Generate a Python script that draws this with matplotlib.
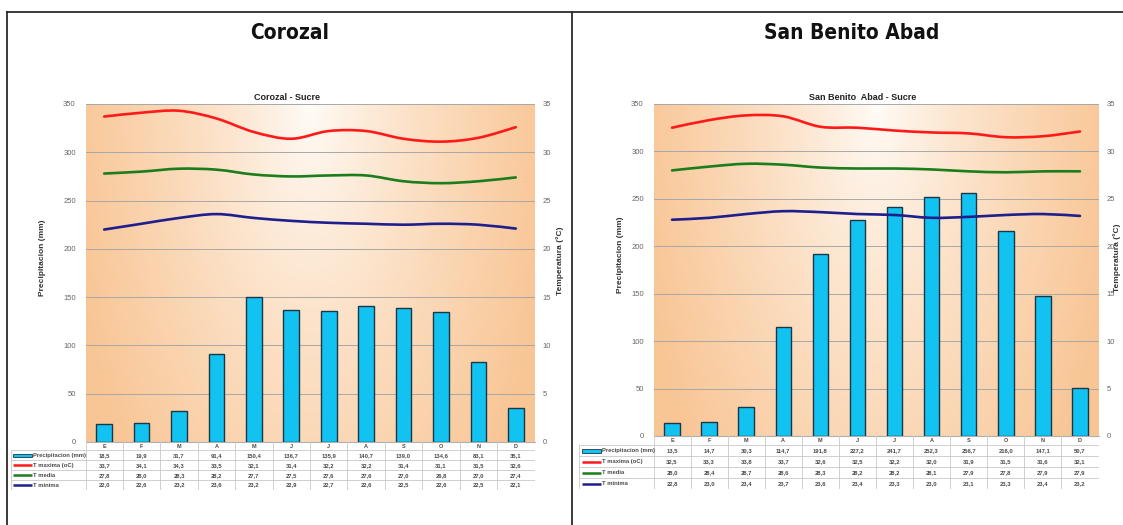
import numpy as np
import matplotlib
matplotlib.use("Agg")
import matplotlib.pyplot as plt
from matplotlib.path import Path
from matplotlib.patches import PathPatch, Rectangle
from matplotlib.lines import Line2D

W, H = 1123, 525

months = ["E", "F", "M", "A", "M", "J", "J", "A", "S", "O", "N", "D"]

# Corozal - Sucre
cor_prec = [18.5, 19.9, 31.7, 91.4, 150.4, 136.7, 135.9, 140.7, 139.0, 134.6, 83.1, 35.1]
cor_tmax = [33.7, 34.1, 34.3, 33.5, 32.1, 31.4, 32.2, 32.2, 31.4, 31.1, 31.5, 32.6]
cor_tmed = [27.8, 28.0, 28.3, 28.2, 27.7, 27.5, 27.6, 27.6, 27.0, 26.8, 27.0, 27.4]
cor_tmin = [22.0, 22.6, 23.2, 23.6, 23.2, 22.9, 22.7, 22.6, 22.5, 22.6, 22.5, 22.1]

# San Benito Abad - Sucre
sba_prec = [13.5, 14.7, 30.3, 114.7, 191.8, 227.2, 241.7, 252.3, 256.7, 216.0, 147.1, 50.7]
sba_tmax = [32.5, 33.3, 33.8, 33.7, 32.6, 32.5, 32.2, 32.0, 31.9, 31.5, 31.6, 32.1]
sba_tmed = [28.0, 28.4, 28.7, 28.6, 28.3, 28.2, 28.2, 28.1, 27.9, 27.8, 27.9, 27.9]
sba_tmin = [22.8, 23.0, 23.4, 23.7, 23.6, 23.4, 23.3, 23.0, 23.1, 23.3, 23.4, 23.2]

row_labels = ["Precipitacion (mm)", "T maxima (oC)", "T media", "T minima"]

C_BAR = "#12c3f2"
C_MAX = "#ff1a1a"
C_MED = "#1b7d1b"
C_MIN = "#1e1e8c"
TXT = "#4a4a4a"
SANS = "Liberation Sans"


def frac(x0, y0, x1, y1):
    return [x0 / W, 1 - y1 / H, (x1 - x0) / W, (y1 - y0) / H]


def smooth(x, y, k=1 / 6):
    # Catmull-Rom style cubic segments through the monthly points
    p = np.column_stack([x, y]).astype(float)
    ext = np.vstack([p[0], p, p[-1]])
    verts = [p[0]]
    codes = [Path.MOVETO]
    for i in range(len(p) - 1):
        a, b, c, d = ext[i], ext[i + 1], ext[i + 2], ext[i + 3]
        verts += [b + (c - a) * k, c - (d - b) * k, c]
        codes += [Path.CURVE4] * 3
    return Path(verts, codes)


def fmt(v):
    return f"{v:.1f}".replace(".", ",")


def gradient():
    X, Y = np.meshgrid(np.linspace(0, 1, 300), np.linspace(1, 0, 200))
    t = np.sqrt(((X - 0.5) / 0.5) ** 2 * 0.85 + (1 - Y) ** 2 * 0.35)
    t = np.clip(t, 0, 1) ** 0.8
    edge = np.array([0.975, 0.775, 0.585])
    white = np.array([1.0, 0.99, 0.975])
    return white * (1 - t[..., None]) + edge * t[..., None]


def climate_chart(px0, px1, py0, py1, tbot, title, title_x, ylab_x, tlab_x,
                  prec, tmax, tmed, tmin):
    x = np.arange(12)
    ax = fig.add_axes(frac(px0, py0, px1, py1))
    ax.imshow(gradient(), extent=[0, 1, 0, 1], transform=ax.transAxes,
              aspect="auto", zorder=0)
    ax.set_xlim(-0.5, 11.5)
    ax.set_ylim(0, 350)
    ax.set_yticks(np.arange(0, 351, 50))
    for v in range(50, 351, 50):
        ax.axhline(v, color="#a8a8a8", lw=0.7, zorder=1)
    ax.bar(x, prec, width=0.42, color=C_BAR, edgecolor="#1d3545", lw=1.0, zorder=3)
    ax.set_xticks([])
    for s in ["top", "right", "left"]:
        ax.spines[s].set_visible(False)
    ax.spines["bottom"].set_color("#b0b0b0")
    ax.tick_params(axis="y", length=0, pad=7, labelsize=5.5, labelcolor="#666666")
    for lab in ax.get_yticklabels():
        lab.set_fontfamily(SANS)

    ax2 = ax.twinx()
    ax2.set_ylim(0, 35)
    ax2.set_yticks(np.arange(0, 36, 5))
    ax2.tick_params(axis="y", length=0, pad=6, labelsize=5.5, labelcolor="#666666")
    for lab in ax2.get_yticklabels():
        lab.set_fontfamily(SANS)
    for s in ax2.spines.values():
        s.set_visible(False)
    for ser, col in [(tmax, C_MAX), (tmed, C_MED), (tmin, C_MIN)]:
        ax2.add_patch(PathPatch(smooth(x, ser), fill=False, edgecolor=col,
                                lw=1.9, capstyle="round", joinstyle="round", zorder=4))

    yc = (py0 + py1) / 2
    fig.text(title_x / W, 1 - 97 / H, title, ha="center", va="center",
             fontsize=6.5, weight="bold", family=SANS, color="#222222")
    fig.text(ylab_x / W, 1 - (yc - 15) / H, "Precipitacion (mm)", rotation=90,
             ha="center", va="center", fontsize=6, weight="bold", family=SANS,
             color="#333333")
    fig.text(tlab_x / W, 1 - (yc - 12) / H, "Temperatura (°C)", rotation=90,
             ha="center", va="center", fontsize=6, weight="bold", family=SANS,
             color="#333333")

    # data table under the chart
    colw = (px1 - px0) / 12
    tx0 = px0 - 2 * colw
    at = fig.add_axes(frac(tx0, py1, px1, tbot))
    at.set_xlim(-2.5, 11.5)
    hdr = 0.85
    at.set_ylim(hdr + 4, 0)
    at.axis("off")
    gc, gw = "#c9c9c9", 0.6
    for xv in np.arange(-0.5, 11.6, 1):
        at.plot([xv, xv], [0, hdr + 4], color=gc, lw=gw)
    at.plot([-2.5, -2.5], [hdr, hdr + 4], color=gc, lw=gw)
    for r in range(5):
        at.plot([-2.5, 11.5], [hdr + r, hdr + r], color=gc, lw=gw)
    for i, m in enumerate(months):
        at.text(i, hdr / 2, m, ha="center", va="center", fontsize=4,
                weight="bold", family=SANS, color=TXT)
    for r, (ser, lab) in enumerate(zip([prec, tmax, tmed, tmin], row_labels)):
        yr = hdr + r + 0.5
        if r == 0:
            at.add_patch(Rectangle((-2.44, yr - 0.18), 0.52, 0.36, facecolor=C_BAR,
                                   edgecolor="#1d3545", lw=0.6))
        else:
            at.plot([-2.44, -1.92], [yr, yr], color=[C_MAX, C_MED, C_MIN][r - 1],
                    lw=1.8, solid_capstyle="butt")
        at.text(-1.9, yr, lab, ha="left", va="center", fontsize=4.2,
                weight="bold", family=SANS, color=TXT)
        for i, v in enumerate(ser):
            at.text(i, yr, fmt(v), ha="center", va="center", fontsize=4.2,
                    weight="bold", family=SANS, color=TXT)


fig = plt.figure(figsize=(W / 100, H / 100), dpi=100)
fig.patch.set_facecolor("white")

# panel frames
frame = dict(color="#2b2b2b", lw=1.3, transform=fig.transFigure)
fig.add_artist(Line2D([7 / W, 1], [1 - 12 / H, 1 - 12 / H], **frame))
fig.add_artist(Line2D([7 / W, 7 / W], [0, 1 - 12 / H], **frame))
fig.add_artist(Line2D([572 / W, 572 / W], [0, 1 - 12 / H], **frame))

fig.text(290 / W, 1 - 33 / H, "Corozal", ha="center", va="center", fontsize=15,
         weight="bold", family="DejaVu Sans", fontstretch="condensed", color="#111111")
fig.text(852 / W, 1 - 33 / H, "San Benito Abad", ha="center", va="center", fontsize=15,
         weight="bold", family="DejaVu Sans", fontstretch="condensed", color="#111111")

climate_chart(85.5, 534.5, 104, 442, 490, "Corozal - Sucre", 287, 43, 560,
              cor_prec, cor_tmax, cor_tmed, cor_tmin)
climate_chart(653.5, 1098.5, 104, 436, 489, "San Benito  Abad - Sucre", 863, 621, 1117,
              sba_prec, sba_tmax, sba_tmed, sba_tmin)

fig.savefig("out.png", dpi=100)
